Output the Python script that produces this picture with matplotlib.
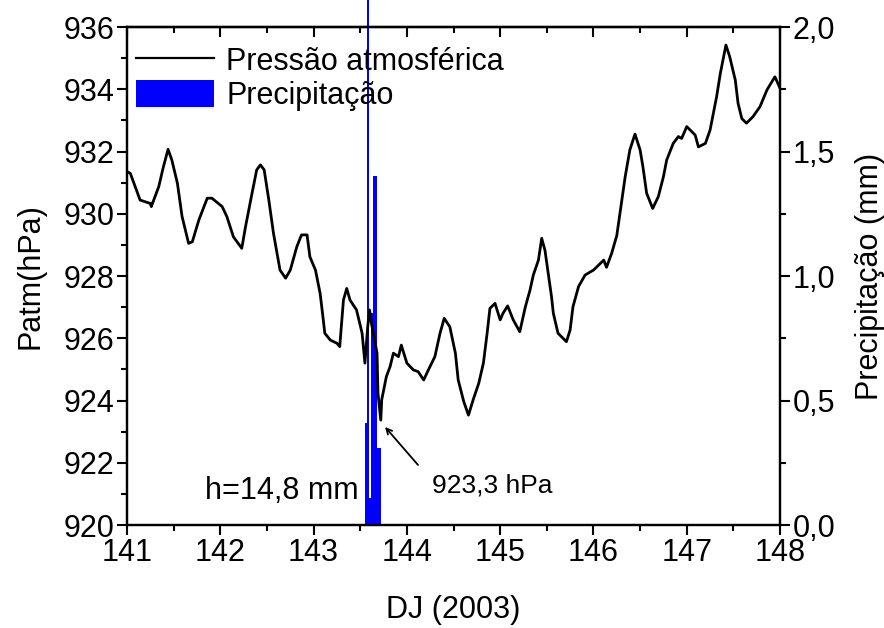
import matplotlib
matplotlib.use("Agg")
import matplotlib.pyplot as plt
from matplotlib.ticker import MultipleLocator, FuncFormatter
from matplotlib.patches import Patch
from matplotlib.lines import Line2D

plt.rcParams['font.family'] = ['Liberation Sans', 'DejaVu Sans']

# Pressure series (day of year 2003, hPa)
dj = [141.00, 141.035, 141.107, 141.14, 141.25, 141.26, 141.34, 141.39, 141.44, 141.48,
      141.54, 141.59, 141.66, 141.70, 141.77, 141.86, 141.91, 142.02, 142.07, 142.14,
      142.23, 142.27, 142.34, 142.39, 142.43, 142.47, 142.52, 142.57, 142.64, 142.70,
      142.75, 142.82, 142.87, 142.93, 142.96, 143.02, 143.07, 143.10, 143.12, 143.18,
      143.25, 143.28, 143.32, 143.355, 143.39, 143.46, 143.52, 143.55, 143.58, 143.60,
      143.62, 143.68, 143.69, 143.72, 143.73, 143.78, 143.82, 143.855, 143.91, 143.94,
      144.00, 144.07, 144.12, 144.18, 144.23, 144.30, 144.355, 144.40, 144.46, 144.52,
      144.55, 144.61, 144.66, 144.71, 144.77, 144.82, 144.86, 144.89, 144.945, 145.00,
      145.03, 145.08, 145.14, 145.21, 145.27, 145.32, 145.355, 145.41, 145.445, 145.48,
      145.52, 145.55, 145.57, 145.62, 145.71, 145.75, 145.78, 145.84, 145.91, 146.00,
      146.11, 146.14, 146.195, 146.25, 146.30, 146.34, 146.39, 146.445, 146.50, 146.53,
      146.57, 146.635, 146.695, 146.75, 146.785, 146.855, 146.91, 146.945, 147.00, 147.09,
      147.125, 147.20, 147.25, 147.285, 147.32, 147.36, 147.42, 147.46, 147.52, 147.55,
      147.59, 147.64, 147.71, 147.785, 147.86, 147.945, 148.00]
patm = [931.35, 931.30, 930.71, 930.44, 930.33, 930.23, 930.87, 931.51, 932.07, 931.73,
        930.98, 929.91, 929.05, 929.10, 929.80, 930.50, 930.50, 930.23, 929.91, 929.26,
        928.89, 929.58, 930.66, 931.41, 931.57, 931.41, 930.44, 929.37, 928.19, 927.93,
        928.19, 928.94, 929.32, 929.32, 928.62, 928.19, 927.44, 926.69, 926.16, 925.94,
        925.84, 925.73, 927.23, 927.60, 927.23, 926.91, 926.16, 925.20, 926.37, 926.91,
        926.48, 925.52, 924.23, 923.37, 924.02, 924.77, 925.09, 925.52, 925.41, 925.78,
        925.20, 924.98, 924.93, 924.66, 924.98, 925.41, 926.16, 926.64, 926.37, 925.52,
        924.66, 923.96, 923.53, 924.02, 924.55, 925.20, 926.16, 926.96, 927.12, 926.59,
        926.80, 927.04, 926.59, 926.21, 927.01, 927.55, 928.03, 928.51, 929.21, 928.83,
        927.98, 927.34, 926.80, 926.16, 925.89, 926.27, 927.01, 927.66, 928.03, 928.19,
        928.51, 928.28, 928.73, 929.30, 930.34, 931.19, 932.05, 932.56, 932.05, 931.51,
        930.66, 930.17, 930.55, 931.19, 931.73, 932.26, 932.48, 932.42, 932.80, 932.53,
        932.15, 932.26, 932.69, 933.23, 933.76, 934.51, 935.42, 935.05, 934.30, 933.55,
        933.06, 932.91, 933.12, 933.44, 933.98, 934.40, 934.03]

# Precipitation (30-min totals, mm)
rain_t = [143.551, 143.572, 143.593, 143.613, 143.634, 143.655, 143.676, 143.697]
rain_mm = [0.41, 14.8, 0.11, 0.85, 1.40, 1.40, 0.31, 0.31]
bar_w = 1.0 / 48

xticks = [141, 142, 143, 144, 145, 146, 147, 148]
yticks_l = [920, 922, 924, 926, 928, 930, 932, 934, 936]
yticks_r = [0.0, 0.5, 1.0, 1.5, 2.0]

FS = 22

fig = plt.figure(figsize=(8.84, 6.28), dpi=100)
ax = fig.add_axes([0.1437, 0.164, 0.7387, 0.793])
ax2 = ax.twinx()
ax.set_zorder(ax2.get_zorder() + 1)
ax.patch.set_visible(False)

bars = ax2.bar(rain_t, rain_mm, width=bar_w, align='edge', color='#0000ff',
               edgecolor='none', linewidth=0)
for b in bars:
    b.set_clip_on(False)
ax2.set_ylim(0, 2.0)

ax.plot(dj, patm, color='black', lw=2.0)
ax.set_xlim(141, 148)
ax.set_ylim(920, 936)

ax.set_xticks(xticks)
ax.set_yticks(yticks_l)
ax.xaxis.set_minor_locator(MultipleLocator(0.5))
ax.yaxis.set_minor_locator(MultipleLocator(1))
ax2.set_yticks(yticks_r)
ax2.yaxis.set_minor_locator(MultipleLocator(0.25))
ax2.yaxis.set_major_formatter(FuncFormatter(lambda v, p: f"{v:.1f}".replace('.', ',')))

for a in (ax, ax2):
    for s in a.spines.values():
        s.set_linewidth(1.6)
ax.tick_params(axis='both', which='major', direction='out', length=7, width=1.5,
               labelsize=FS, pad=2)
ax.tick_params(axis='both', which='minor', direction='out', length=4, width=1.5)
ax2.tick_params(axis='y', which='major', direction='out', length=7, width=1.5,
                labelsize=FS, pad=2)
ax2.tick_params(axis='y', which='minor', direction='out', length=4, width=1.5)

top = ax.secondary_xaxis('top')
top.set_xticks(xticks)
top.xaxis.set_minor_locator(MultipleLocator(0.5))
top.tick_params(which='major', direction='in', length=7, width=1.5, labeltop=False)
top.tick_params(which='minor', direction='in', length=4, width=1.5)
top.spines['top'].set_linewidth(1.6)

ax.set_xlabel('DJ (2003)', fontsize=FS, labelpad=20)
ax.set_ylabel('Patm(hPa)', fontsize=FS, labelpad=13)
ax2.set_ylabel('Precipitação (mm)', fontsize=FS, labelpad=14)

handles = [Line2D([], [], color='black', lw=1.6),
           Patch(facecolor='#0000ff', edgecolor='none')]
ax.legend(handles, ['Pressão atmosférica', 'Precipitação'], loc='upper left',
          bbox_to_anchor=(0, 0.98), frameon=False, fontsize=FS, handlelength=2.55,
          handleheight=0.95, handletextpad=0.4, labelspacing=0.12,
          borderaxespad=0.1, borderpad=0.2)

ax.text(143.48, 921.1, 'h=14,8 mm', fontsize=FS, ha='right', va='center')
ax.annotate('', xy=(143.766, 923.15), xytext=(144.119, 921.93),
            arrowprops=dict(arrowstyle='->', color='black', lw=1.3,
                            shrinkA=0, shrinkB=0))
ax.text(144.91, 921.28, '923,3 hPa', fontsize=19, ha='center', va='center')

fig.savefig('out.png', dpi=100)
